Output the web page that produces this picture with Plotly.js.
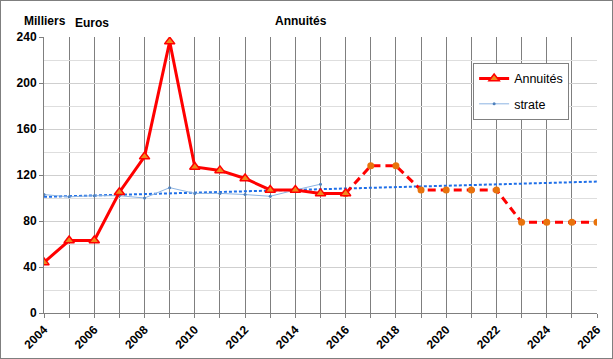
<!DOCTYPE html>
<html><head><meta charset="utf-8">
<script src="https://cdn.plot.ly/plotly-3.0.1.min.js"></script>
<style>
html,body{margin:0;padding:0;background:#fff;}
#chart{width:611px;height:357px;border:1px solid #7f7f7f;}
</style></head>
<body><div id="chart"></div>
<script>
const years = [2004,2005,2006,2007,2008,2009,2010,2011,2012,2013,2014,2015,2016,2017,2018,2019,2020,2021,2022,2023,2024,2025,2026];
const annuites = [44,63,63,105,136,236,127,124,117,107,107,104,104,128,128,107,107,107,107,79,79,79,79];
const strateYears = [2004,2005,2006,2007,2008,2009,2010,2011,2012,2013,2014,2015];
const strate = [103,101,102,102,100,109,104,104,103,101.5,107,112];
const trendYears = [2004,2026];
const trendValues = [101,114.3];
const lastActual = 2016;

const actX = [], actY = [], projX = [], projY = [];
years.forEach((y,i)=>{
  if (y <= lastActual){ actX.push(y); actY.push(annuites[i]); }
  if (y >= lastActual){ projX.push(y); projY.push(annuites[i]); }
});

const fam = '"Liberation Sans", Arial, sans-serif';
const traces = [
  {x:trendYears, y:trendValues, mode:'lines', line:{color:'#1f6fe8', width:2, dash:'3px,2px'}, showlegend:false, hoverinfo:'skip'},
  {x:strateYears, y:strate, mode:'lines+markers', name:'strate', legendrank:2, legendgroup:'b', line:{color:'#8db4e2', width:1}, marker:{symbol:'circle', size:3, color:'#4f81bd'}},
  {x:projX, y:projY, mode:'lines+markers', showlegend:false, line:{color:'#ff0000', width:3, dash:'8px,5px'}, marker:{symbol:'circle', size:7, color:'#e8730c'}},
  {x:actX, y:actY, mode:'lines+markers', name:'Annuités', legendrank:1, legendgroup:'a', line:{color:'#ff0000', width:3}, marker:{symbol:'triangle-up', size:9, color:'#f08a1c', line:{color:'#ff0000', width:1.5}}}
];
const layout = {
  width:611, height:357,
  margin:{l:43, r:15, t:36, b:45},
  paper_bgcolor:'#fff', plot_bgcolor:'#fff',
  font:{family:fam, size:12, color:'#000'},
  showlegend:true,
  legend:{x:0.776, y:0.906, xanchor:'left', yanchor:'top', bgcolor:'#fff', bordercolor:'#808080', borderwidth:1, font:{family:fam, size:12.5, color:'#000'}, itemwidth:30, tracegroupgap:6, traceorder:'grouped'},
  xaxis:{range:[2004,2026], dtick:2, tick0:2004, tickangle:-45, showgrid:true, gridcolor:'#7f7f7f', gridwidth:1,
    minor:{dtick:1, showgrid:true, gridcolor:'#7f7f7f', ticks:'outside', ticklen:4, tickcolor:'#7f7f7f'},
    ticks:'outside', ticklen:4, tickcolor:'#7f7f7f', showline:true, linecolor:'#7f7f7f', linewidth:1, zeroline:false,
    tickfont:{family:fam, size:12, color:'#000', weight:'bold'}, fixedrange:true},
  yaxis:{range:[0,240], dtick:40, tick0:0, showgrid:true, gridcolor:'#cfcfcf', gridwidth:1,
    minor:{dtick:20, showgrid:true, gridcolor:'#dedede'},
    ticks:'outside', ticklen:4, tickcolor:'#7f7f7f', showline:true, linecolor:'#7f7f7f', linewidth:1, zeroline:false,
    tickfont:{family:fam, size:12, color:'#000', weight:'bold'}, fixedrange:true},
  annotations:[
    {text:'<b>Milliers</b>', xref:'paper', yref:'paper', x:-0.040, y:1.059, xanchor:'left', yanchor:'middle', showarrow:false, font:{family:fam, size:12}},
    {text:'<b>Euros</b>', xref:'paper', yref:'paper', x:0.052, y:1.052, xanchor:'left', yanchor:'middle', showarrow:false, font:{family:fam, size:12}},
    {text:'<b>Annuités</b>', xref:'paper', yref:'paper', x:0.465, y:1.059, xanchor:'center', yanchor:'middle', showarrow:false, font:{family:fam, size:12}}
  ]
};
Plotly.newPlot('chart', traces, layout, {displayModeBar:false, staticPlot:true});
</script></body></html>
